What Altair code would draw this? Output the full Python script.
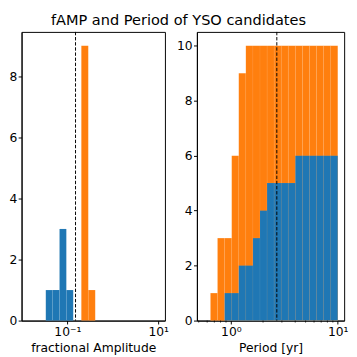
import altair as alt
import pandas as pd

# ---- data ----
amp_blue_edges = [0.0334, 0.0473, 0.0670, 0.0948, 0.1343]
amp_blue_counts = [1, 1, 3, 1]
amp_orange_edges = [0.2028, 0.2884, 0.4102]
amp_orange_counts = [9, 1]
amp_threshold = 0.151

period_edges = [0.644, 0.750, 0.874, 1.018, 1.185, 1.380, 1.608, 1.873, 2.181,
                2.540, 2.958, 3.445, 4.012, 4.673, 5.442, 6.339, 7.382, 8.598, 10.0]
period_orange_cum = [1, 3, 3, 6, 9, 10, 10, 10, 10, 10, 10, 10, 10, 10, 10, 10, 10, 10]
period_blue_cum = [0, 0, 1, 1, 2, 2, 3, 4, 5, 5, 5, 5, 6, 6, 6, 6, 6, 6]
period_threshold = 2.69
period_minor = [0.5, 0.6, 0.7, 0.8, 0.9, 2, 3, 4, 5, 6, 7, 8, 9]

amp_ticks = [0.1, 10]
period_ticks = [1, 10]
amp_yticks = [0, 2, 4, 6, 8]
period_yticks = [0, 2, 4, 6, 8, 10]

BLUE = "#1f77b4"
ORANGE = "#ff7f0e"
FONT = "DejaVu Sans"
H = 298


def bars(edges, counts):
    df = pd.DataFrame({"lo": edges[:-1], "hi": edges[1:], "count": counts})
    df["base"] = 0
    return df[df["count"] > 0]


LABEL_EXPR = ("datum.value < 0.5 ? '10⁻¹' : (datum.value > 5 ? '10¹' : '10⁰')")


def xenc(domain, values, title):
    return alt.X(
        "lo:Q",
        scale=alt.Scale(type="log", domain=domain, nice=False),
        axis=alt.Axis(values=values, title=title, labelExpr=LABEL_EXPR,
                      labelFlush=False, labelOverlap=False, titlePadding=4),
    )


def yenc(domain, values, extent):
    return alt.Y(
        "count:Q",
        scale=alt.Scale(domain=domain, nice=False, zero=True),
        axis=alt.Axis(values=values, title=None, minExtent=extent, maxExtent=extent,
                      labelOverlap=False, labelFlush=False),
    )


def rects(df, color, xdom, xvals, xtitle, ydom, yvals, ext):
    return alt.Chart(df).mark_rect(
        color=color, stroke="white", strokeWidth=0.5, strokeOpacity=0.1
    ).encode(
        x=xenc(xdom, xvals, xtitle),
        x2="hi:Q",
        y=yenc(ydom, yvals, ext),
        y2="base:Q",
    )


# ---- left panel: fractional amplitude ----
amp_dom = [0.00977, 14.09]
amp_title = "fractional Amplitude"
amp_ydom = [0, 9.45]
left_orange = rects(bars(amp_orange_edges, amp_orange_counts), ORANGE,
                    amp_dom, amp_ticks, amp_title, amp_ydom, amp_yticks, 12)
left_blue = rects(bars(amp_blue_edges, amp_blue_counts), BLUE,
                  amp_dom, amp_ticks, amp_title, amp_ydom, amp_yticks, 12)
left_thr = alt.Chart(pd.DataFrame({"lo": [amp_threshold]})).mark_rule(
    color="black", strokeDash=[3.5, 1.8], strokeWidth=1
).encode(x=xenc(amp_dom, amp_ticks, amp_title))
left = alt.layer(left_orange, left_blue, left_thr).properties(width=148, height=H)

# ---- right panel: period (cumulative) ----
per_dom = [0.4808, 11.48]
per_title = "Period [yr]"
per_ydom = [0, 10.5]
right_orange = rects(bars(period_edges, period_orange_cum), ORANGE,
                     per_dom, period_ticks, per_title, per_ydom, period_yticks, 20)
right_blue = rects(bars(period_edges, period_blue_cum), BLUE,
                   per_dom, period_ticks, per_title, per_ydom, period_yticks, 20)
right_thr = alt.Chart(pd.DataFrame({"lo": [period_threshold]})).mark_rule(
    color="black", strokeDash=[3.5, 1.8], strokeWidth=1
).encode(x=xenc(per_dom, period_ticks, per_title))
right_minor = alt.Chart(pd.DataFrame({"lo": period_minor})).mark_rule(
    color="black", strokeWidth=0.8
).encode(x=xenc(per_dom, period_ticks, per_title),
         y=alt.value(H), y2=alt.value(H + 2))
right = alt.layer(right_orange, right_blue, right_thr, right_minor).properties(
    width=152, height=H)

chart = alt.hconcat(left, right, spacing=6).properties(
    title=alt.TitleParams("fAMP and Period of YSO candidates", fontSize=15,
                          font=FONT, fontWeight="normal", color="black",
                          anchor="middle", offset=3),
    padding={"left": 0, "top": 0, "right": 0, "bottom": 0},
).configure_view(
    stroke="black", strokeWidth=1
).configure_axis(
    labelFont=FONT, titleFont=FONT, labelFontSize=12.7, titleFontSize=12.7,
    titleFontWeight="normal", labelColor="black", titleColor="black",
    domainColor="black", tickColor="black", tickSize=3.5, labelPadding=1.5,
    grid=False, domainWidth=1, tickWidth=1,
)

chart.save("out.html", embed_options={"renderer": "svg", "actions": False})
